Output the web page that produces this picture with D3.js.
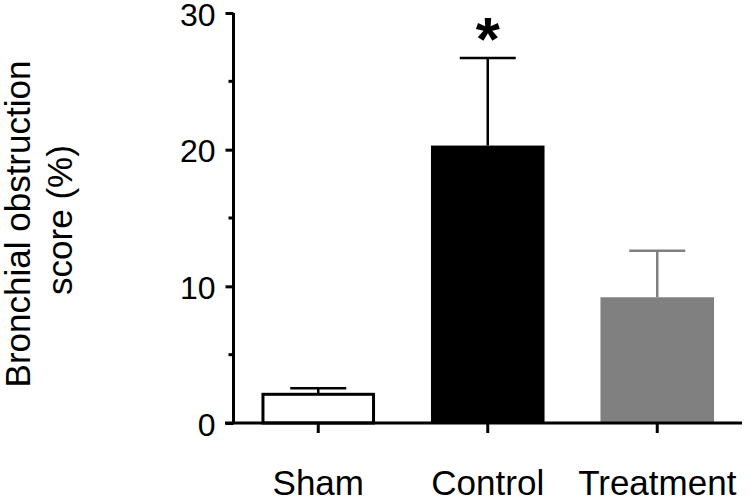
<!DOCTYPE html>
<html><head><meta charset="utf-8">
<script src="https://cdn.jsdelivr.net/npm/d3@7"></script>
<style>body{margin:0;background:#fff}svg{display:block}text{font-family:"Liberation Sans",Arial,sans-serif;fill:#000}</style>
</head><body><svg id="c" width="750" height="501"></svg>
<script>
const categories = ["Sham", "Control", "Treatment"];
const means = [2.1, 20.3, 9.2];
const errors = [0.45, 6.4, 3.4];
const fills = ["#ffffff", "#000000", "#808080"];
const errColors = ["#000000", "#000000", "#808080"];
const yTicks = [0, 10, 20, 30];
const yMinorTicks = [5, 15, 25];
const significance = ["", "*", ""];

const FONT = '"Liberation Sans",Arial,sans-serif';
const svg = d3.select("#c");
const y = d3.scaleLinear().domain([0, 30]).range([423, 13]);
const x = d3.scaleBand().domain(categories).range([233.5, 742]).paddingInner(0.33).paddingOuter(0.165);

// bars
svg.selectAll("rect.bar").data(categories).join("rect")
  .attr("x", (d,i) => x(d) + (i===0 ? 1.5 : 0))
  .attr("width", (d,i) => x.bandwidth() - (i===0 ? 3 : 0))
  .attr("y", (d,i) => y(means[i]))
  .attr("height", (d,i) => y(0) - y(means[i]))
  .attr("fill", (d,i) => fills[i])
  .attr("stroke", (d,i) => i===0 ? "#000" : "none")
  .attr("stroke-width", 3);

// error bars
const capW = 56;
categories.forEach((c,i) => {
  const cx = x(c) + x.bandwidth()/2;
  const g = svg.append("g").attr("stroke", errColors[i]).attr("stroke-width", 2.5);
  g.append("line").attr("x1", cx).attr("x2", cx).attr("y1", y(means[i])).attr("y2", y(means[i]+errors[i]));
  g.append("line").attr("x1", cx-capW/2).attr("x2", cx+capW/2).attr("y1", y(means[i]+errors[i])).attr("y2", y(means[i]+errors[i]));
  if (significance[i]) {
    svg.append("text").attr("x", cx).attr("y", y(means[i]+errors[i]) + 2)
      .attr("text-anchor", "middle").attr("font-size", 62).attr("font-weight", "bold").text(significance[i]);
  }
});

// y axis
const yAxis = d3.axisLeft(y).tickValues(yTicks).tickSize(8).tickPadding(10).tickFormat(d3.format("d"));
const gy = svg.append("g").attr("transform", "translate(233.5,0)").call(yAxis);
gy.select(".domain").attr("stroke-width", 3).attr("d", `M0,${y(30)}V${y(0)}`);
gy.selectAll(".tick line").attr("stroke-width", 3);
gy.selectAll(".tick text").attr("font-size", 32).attr("font-family", FONT).attr("dy", "0.38em");
gy.selectAll(".minor").data(yMinorTicks).join("line").attr("class","minor")
  .attr("x1", -5).attr("x2", 0).attr("y1", d=>y(d)).attr("y2", d=>y(d)).attr("stroke","#000").attr("stroke-width",3);

// x axis
const xAxis = d3.axisBottom(x).tickSize(10).tickPadding(37).tickSizeOuter(0);
const gx = svg.append("g").attr("transform", `translate(0,${y(0)})`).call(xAxis);
gx.select(".domain").attr("stroke-width", 3).attr("d", `M225,0H742`);
gx.selectAll(".tick line").attr("stroke-width", 3);
gx.selectAll(".tick text").attr("font-size", 35).attr("font-family", FONT);

// y label
svg.append("text").attr("transform", "translate(30,224) rotate(-90)").attr("text-anchor","middle")
  .attr("font-size", 35).text("Bronchial obstruction");
svg.append("text").attr("transform", "translate(72,220) rotate(-90)").attr("text-anchor","middle")
  .attr("font-size", 35).text("score (%)");
</script></body></html>
